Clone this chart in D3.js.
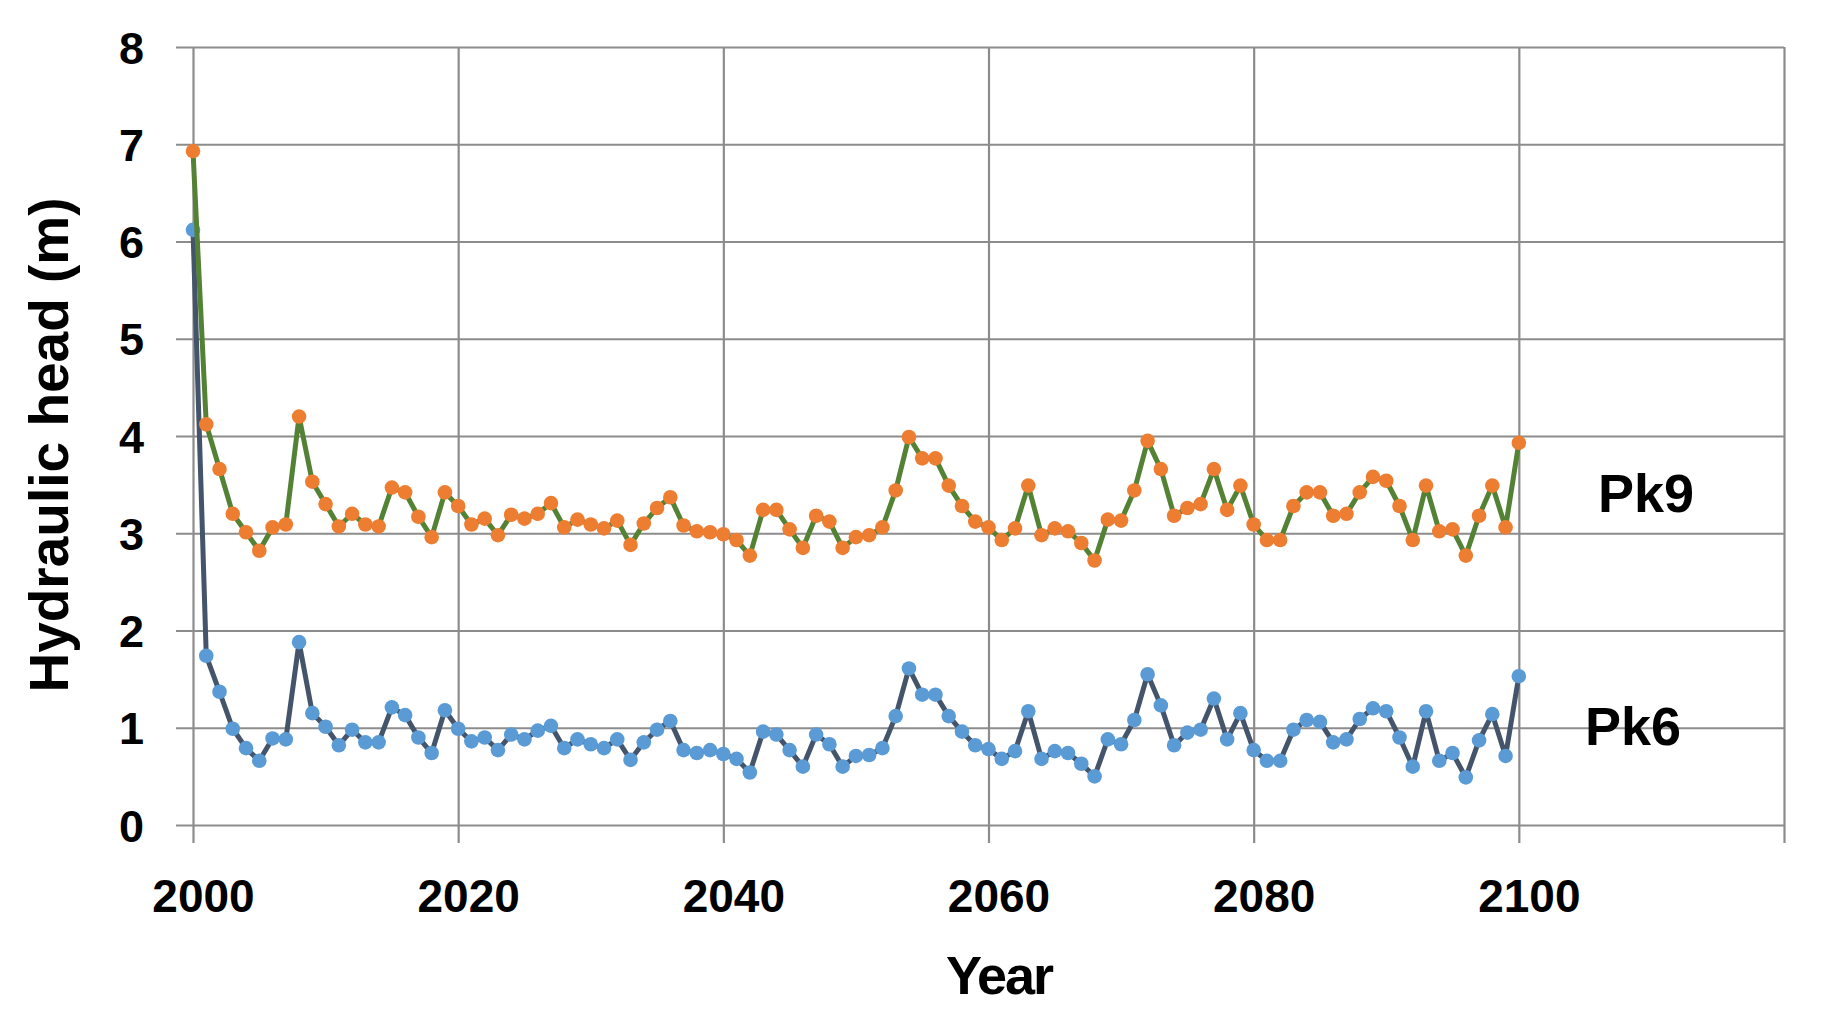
<!DOCTYPE html>
<html>
<head>
<meta charset="utf-8">
<script src="https://cdn.jsdelivr.net/npm/d3@7"></script>
<style>
  html, body { margin: 0; padding: 0; background: #fff; }
  svg text { font-family: "Liberation Sans", Arial, sans-serif; font-weight: bold; fill: #000; }
</style>
</head>
<body>
<svg id="chart" width="1826" height="1020"></svg>
<script>
'use strict'
// years 2000..2100, one point per year
var years = d3.range(2000, 2101)

var pk9 = [
  6.93, 4.12, 3.66, 3.20, 3.01, 2.82, 3.06, 3.09, 4.20, 3.53,
  3.30, 3.07, 3.20, 3.09, 3.07, 3.47, 3.42, 3.17, 2.96, 3.42,
  3.28, 3.09, 3.15, 2.98, 3.19, 3.15, 3.20, 3.31, 3.06, 3.14,
  3.09, 3.05, 3.13, 2.88, 3.10, 3.26, 3.37, 3.08, 3.02, 3.01,
  2.99, 2.93, 2.77, 3.24, 3.24, 3.04, 2.85, 3.18, 3.12, 2.85,
  2.96, 2.98, 3.06, 3.44, 3.99, 3.77, 3.77, 3.49, 3.28, 3.12,
  3.06, 2.93, 3.05, 3.49, 2.98, 3.05, 3.02, 2.90, 2.72, 3.14,
  3.13, 3.44, 3.95, 3.66, 3.18, 3.26, 3.30, 3.66, 3.24, 3.49,
  3.09, 2.93, 2.93, 3.28, 3.42, 3.42, 3.18, 3.20, 3.42, 3.58,
  3.54, 3.28, 2.93, 3.49, 3.02, 3.04, 2.77, 3.18, 3.49, 3.06,
  3.93
]

var pk6 = [
  6.12, 1.74, 1.37, 0.99, 0.79, 0.66, 0.89, 0.88, 1.88, 1.15,
  1.01, 0.82, 0.98, 0.85, 0.85, 1.21, 1.13, 0.90, 0.74, 1.18,
  0.99, 0.86, 0.90, 0.77, 0.93, 0.88, 0.97, 1.02, 0.79, 0.88,
  0.83, 0.79, 0.88, 0.67, 0.85, 0.98, 1.07, 0.77, 0.74, 0.77,
  0.73, 0.68, 0.54, 0.96, 0.93, 0.77, 0.60, 0.93, 0.83, 0.60,
  0.71, 0.72, 0.79, 1.12, 1.61, 1.34, 1.34, 1.12, 0.96, 0.82,
  0.78, 0.68, 0.76, 1.17, 0.68, 0.76, 0.74, 0.63, 0.50, 0.88,
  0.83, 1.08, 1.55, 1.23, 0.82, 0.95, 0.98, 1.30, 0.88, 1.15,
  0.77, 0.66, 0.66, 0.98, 1.08, 1.06, 0.85, 0.88, 1.09, 1.20,
  1.17, 0.90, 0.60, 1.17, 0.66, 0.74, 0.49, 0.87, 1.14, 0.71,
  1.53
]

var xTicks = [2000, 2020, 2040, 2060, 2080, 2100, 2120]
var xLabels = ['2000', '2020', '2040', '2060', '2080', '2100', '']
var yTicks = [0, 1, 2, 3, 4, 5, 6, 7, 8]

var series = [
  { name: 'Pk6', values: pk6, line: '#44546a', dot: '#5b9bd5', lx: 1585, ly: 745 },
  { name: 'Pk9', values: pk9, line: '#548235', dot: '#ed7d31', lx: 1598, ly: 512 }
]

var svg = d3.select('#chart')
var m = { left: 193, right: 1784, top: 47, bottom: 825 }

var x = d3.scaleLinear().domain([2000, 2120]).range([m.left, m.right])
var y = d3.scaleLinear().domain([0, 8]).range([m.bottom, m.top])

// grid: ticks stick out past the plot, like the original
var xAxis = d3.axisBottom(x)
  .tickValues(xTicks)
  .tickSize(m.bottom - m.top + 18)
  .tickFormat((d, i) => xLabels[i])
  .tickPadding(36)
svg.append('g')
  .attr('class', 'xaxis')
  .attr('transform', `translate(0,${m.top})`)
  .call(xAxis)

var yAxis = d3.axisLeft(y)
  .tickValues(yTicks)
  .tickSize(m.right - m.left + 17)
  .tickFormat(d3.format('d'))
  .tickPadding(32)
svg.append('g')
  .attr('class', 'yaxis')
  .attr('transform', `translate(${m.right},0)`)
  .call(yAxis)

svg.selectAll('.xaxis .domain, .yaxis .domain').remove()
svg.selectAll('.xaxis line, .yaxis line')
  .attr('stroke', '#8c8c8c')
  .attr('stroke-width', 2.2)
svg.selectAll('.xaxis text')
  .attr('font-size', 46)
  .attr('dx', 10)
svg.selectAll('.yaxis text')
  .attr('font-size', 45)
  .attr('dy', '0.36em')

// the series
var line = d3.line()
  .x((d, i) => x(years[i]))
  .y(d => y(d))

series.forEach(s => {
  svg.append('path')
    .attr('d', line(s.values))
    .attr('fill', 'none')
    .attr('stroke', s.line)
    .attr('stroke-width', 5)
    .attr('stroke-linejoin', 'round')
  svg.append('g')
    .selectAll('circle')
    .data(s.values)
    .join('circle')
    .attr('cx', (d, i) => x(years[i]))
    .attr('cy', d => y(d))
    .attr('r', 7.3)
    .attr('fill', s.dot)
  svg.append('text')
    .attr('x', s.lx)
    .attr('y', s.ly)
    .attr('font-size', 54)
    .text(s.name)
})

// axis titles
svg.append('text')
  .attr('x', 1000)
  .attr('y', 994)
  .attr('text-anchor', 'middle')
  .attr('font-size', 54)
  .attr('textLength', 108)
  .text('Year')

svg.append('text')
  .attr('transform', 'translate(68,445) rotate(-90)')
  .attr('text-anchor', 'middle')
  .attr('font-size', 55)
  .text('Hydraulic head (m)')
</script>
</body>
</html>
